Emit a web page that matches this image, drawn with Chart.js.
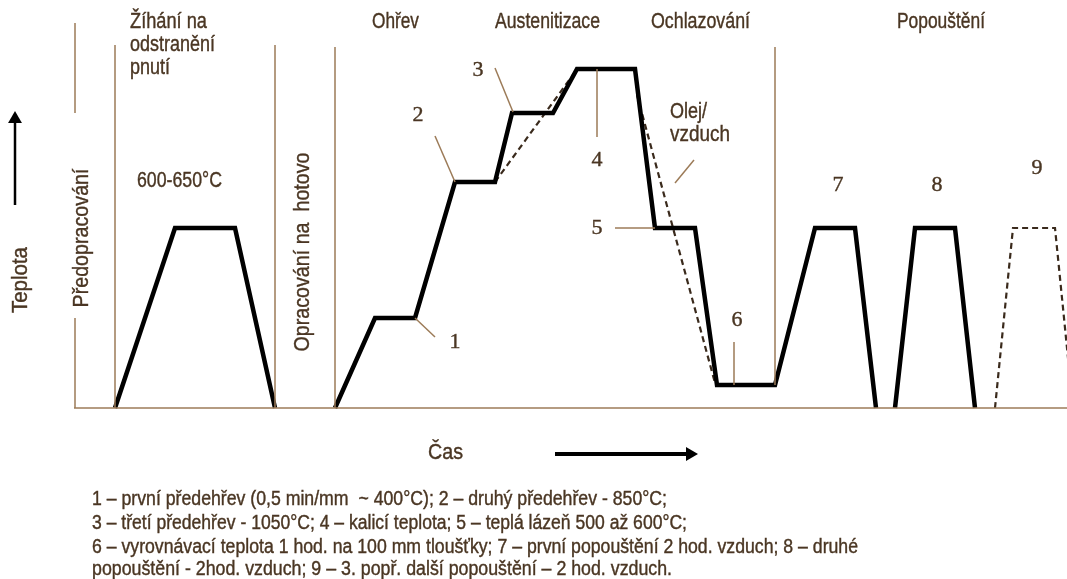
<!DOCTYPE html>
<html lang="cs">
<head>
    <meta charset="UTF-8">
    <title>Tepelné zpracování</title>
    <script src="https://cdn.jsdelivr.net/npm/chart.js"></script>
    <style>
        html, body {
            margin: 0;
            overflow: hidden;
            background: #ffffff;
        }
        #wrap {
            position: relative;
            width: 1067px;
            height: 579px;
        }
        canvas {
            display: block;
        }
    </style>
</head>
<body>
    <div id="wrap">
        <canvas id="chart"></canvas>
    </div>

    <script>
        // x = cas (schema), y = uroven teploty nad zakladni carou (schema)
        const stressRelief = [[115, 0], [175, 180], [235, 180], [275, 0]];
        const mainCycle = [[335, 0], [375, 90], [415, 90], [455, 226], [495, 226], [512, 295], [553, 295],
            [577, 339], [635, 339], [655, 180], [695, 180], [717, 23], [775, 23], [815, 180], [855, 180], [876, 0]];
        const secondTemper = [[895, 0], [915, 180], [955, 180], [975, 0]];
        const thirdTemper = [[995, 0], [1013, 180], [1055, 180], [1073, 0]];
        const heatingShortcut = [[495, 226], [575, 336]];
        const coolingShortcut = [[637, 313], [715, 25]];

        // tenke hnede cary: deleni faze, zakladni cara, odkazy na cisla
        const guideSegments = [
            [74, 0, 1067, 0],
            [75, 385, 75, 295], [75, 90, 75, 0],
            [115, 363, 115, 0], [275, 363, 275, 0], [335, 361, 335, 0], [775, 361, 775, 23],
            [415, 90, 435, 71], [435, 272, 455, 226], [495, 340, 513, 296],
            [597, 339, 597, 271], [615, 180, 655, 180], [734, 66, 734, 23], [694, 248, 675, 225]
        ];
        const tempArrow = [[15, 203], [15, 289]];
        const timeArrow = [[555, -46], [690, -46]];

        const phaseLabels = ['Žíhání na', 'odstranění', 'pnutí', 'Ohřev', 'Austenitizace', 'Ochlazování', 'Popouštění'];
        const stepNumbers = ['1', '2', '3', '4', '5', '6', '7', '8', '9'];
        const legendLines = [
            '1 – první předehřev (0,5 min/mm  ~ 400°C); 2 – druhý předehřev - 850°C;',
            '3 – třetí předehřev - 1050°C; 4 – kalicí teplota; 5 – teplá lázeň 500 až 600°C;',
            '6 – vyrovnávací teplota 1 hod. na 100 mm tloušťky; 7 – první popouštění 2 hod. vzduch; 8 – druhé',
            'popouštění - 2hod. vzduch; 9 – 3. popř. další popouštění – 2 hod. vzduch.'
        ];

        const TEXT = '#4a3623';
        const GUIDE = '#9c7b58';
        const SANS = '"Liberation Sans", Arial, sans-serif';
        const SERIF = '"Liberation Serif", "Times New Roman", serif';

        const pts = arr => arr.map(p => ({ x: p[0], y: p[1] }));

        const datasets = [];
        guideSegments.forEach(s => {
            datasets.push({
                data: [{ x: s[0], y: s[1] }, { x: s[2], y: s[3] }],
                borderColor: GUIDE, borderWidth: 1.5, pointRadius: 0
            });
        });
        [stressRelief, mainCycle, secondTemper].forEach(a => {
            datasets.push({ data: pts(a), borderColor: '#000000', borderWidth: 4.5, pointRadius: 0 });
        });
        [thirdTemper, heatingShortcut, coolingShortcut].forEach(a => {
            datasets.push({ data: pts(a), borderColor: '#3a2a1c', borderWidth: 2.2, borderDash: [6, 4], pointRadius: 0 });
        });
        datasets.push({
            data: pts(tempArrow), borderColor: '#000', borderWidth: 2.5,
            pointRadius: [0, 8], pointStyle: 'triangle', rotation: 0, backgroundColor: '#000', pointBorderWidth: 0
        });
        datasets.push({
            data: pts(timeArrow), borderColor: '#000', borderWidth: 4,
            pointRadius: [0, 8], pointStyle: 'triangle', rotation: 90, backgroundColor: '#000', pointBorderWidth: 0
        });

        // popisky: [text, x, y, velikost, pismo, max. sirka, zarovnani, otoceni]
        const texts = [
            [phaseLabels[0], 130, 386, 22, SANS, 77, 'left', 0],
            [phaseLabels[1], 130, 363, 22, SANS, 85, 'left', 0],
            [phaseLabels[2], 130, 340, 22, SANS, 40, 'left', 0],
            [phaseLabels[3], 372, 386, 22, SANS, 47, 'left', 0],
            [phaseLabels[4], 495, 386, 22, SANS, 105, 'left', 0],
            [phaseLabels[5], 651, 386, 22, SANS, 99, 'left', 0],
            [phaseLabels[6], 897, 386, 22, SANS, 88, 'left', 0],
            ['600-650°C', 137, 227, 22, SANS, 85, 'left', 0],
            ['Olej/', 670, 296, 22, SANS, 37, 'left', 0],
            ['vzduch', 670, 273, 22, SANS, 60, 'left', 0],
            ['Čas', 428, -45, 22, SANS, 35, 'left', 0],
            ['Teplota', 21, 128, 22, SANS, 66, 'center', -90],
            ['Předopracování', 82, 170, 22, SANS, 139, 'center', -90],
            ['Opracování na  hotovo', 303, 156, 22, SANS, 199, 'center', -90],
            [stepNumbers[0], 455, 66, 22, SERIF, 20, 'center', 0],
            [stepNumbers[1], 418, 293, 22, SERIF, 20, 'center', 0],
            [stepNumbers[2], 478, 338, 22, SERIF, 20, 'center', 0],
            [stepNumbers[3], 597, 248, 22, SERIF, 20, 'center', 0],
            [stepNumbers[4], 597, 180, 22, SERIF, 20, 'center', 0],
            [stepNumbers[5], 737, 88, 22, SERIF, 20, 'center', 0],
            [stepNumbers[6], 838, 223, 22, SERIF, 20, 'center', 0],
            [stepNumbers[7], 937, 223, 22, SERIF, 20, 'center', 0],
            [stepNumbers[8], 1037, 240, 22, SERIF, 20, 'center', 0],
            [legendLines[0], 92, -91, 20, SANS, 575, 'left', 0],
            [legendLines[1], 92, -115, 20, SANS, 595, 'left', 0],
            [legendLines[2], 92, -139, 20, SANS, 766, 'left', 0],
            [legendLines[3], 92, -161, 20, SANS, 580, 'left', 0]
        ];

        const textPlugin = {
            id: 'texts',
            afterDraw(chart) {
                const ctx = chart.ctx;
                const xs = chart.scales.x, ys = chart.scales.y;
                ctx.save();
                ctx.fillStyle = TEXT;
                ctx.strokeStyle = TEXT;
                ctx.lineWidth = 0.4;
                ctx.textBaseline = 'middle';
                texts.forEach(t => {
                    ctx.save();
                    ctx.translate(xs.getPixelForValue(t[1]), ys.getPixelForValue(t[2]));
                    if (t[7]) ctx.rotate(t[7] * Math.PI / 180);
                    ctx.font = t[3] + 'px ' + t[4];
                    ctx.textAlign = t[6];
                    ctx.fillText(t[0], 0, 0, t[5]);
                    ctx.strokeText(t[0], 0, 0, t[5]);
                    ctx.restore();
                });
                ctx.restore();
            }
        };

        new Chart(document.getElementById('chart'), {
            type: 'scatter',
            data: { datasets: datasets },
            options: {
                responsive: true,
                maintainAspectRatio: false,
                animation: false,
                showLine: true,
                layout: { padding: 0, autoPadding: false },
                elements: { line: { tension: 0, fill: false } },
                plugins: { legend: { display: false }, tooltip: { enabled: false } },
                scales: {
                    x: { type: 'linear', min: 0, max: 1067, display: false },
                    y: { type: 'linear', min: -171, max: 408, display: false }
                }
            },
            plugins: [textPlugin]
        });
    </script>
</body>
</html>
